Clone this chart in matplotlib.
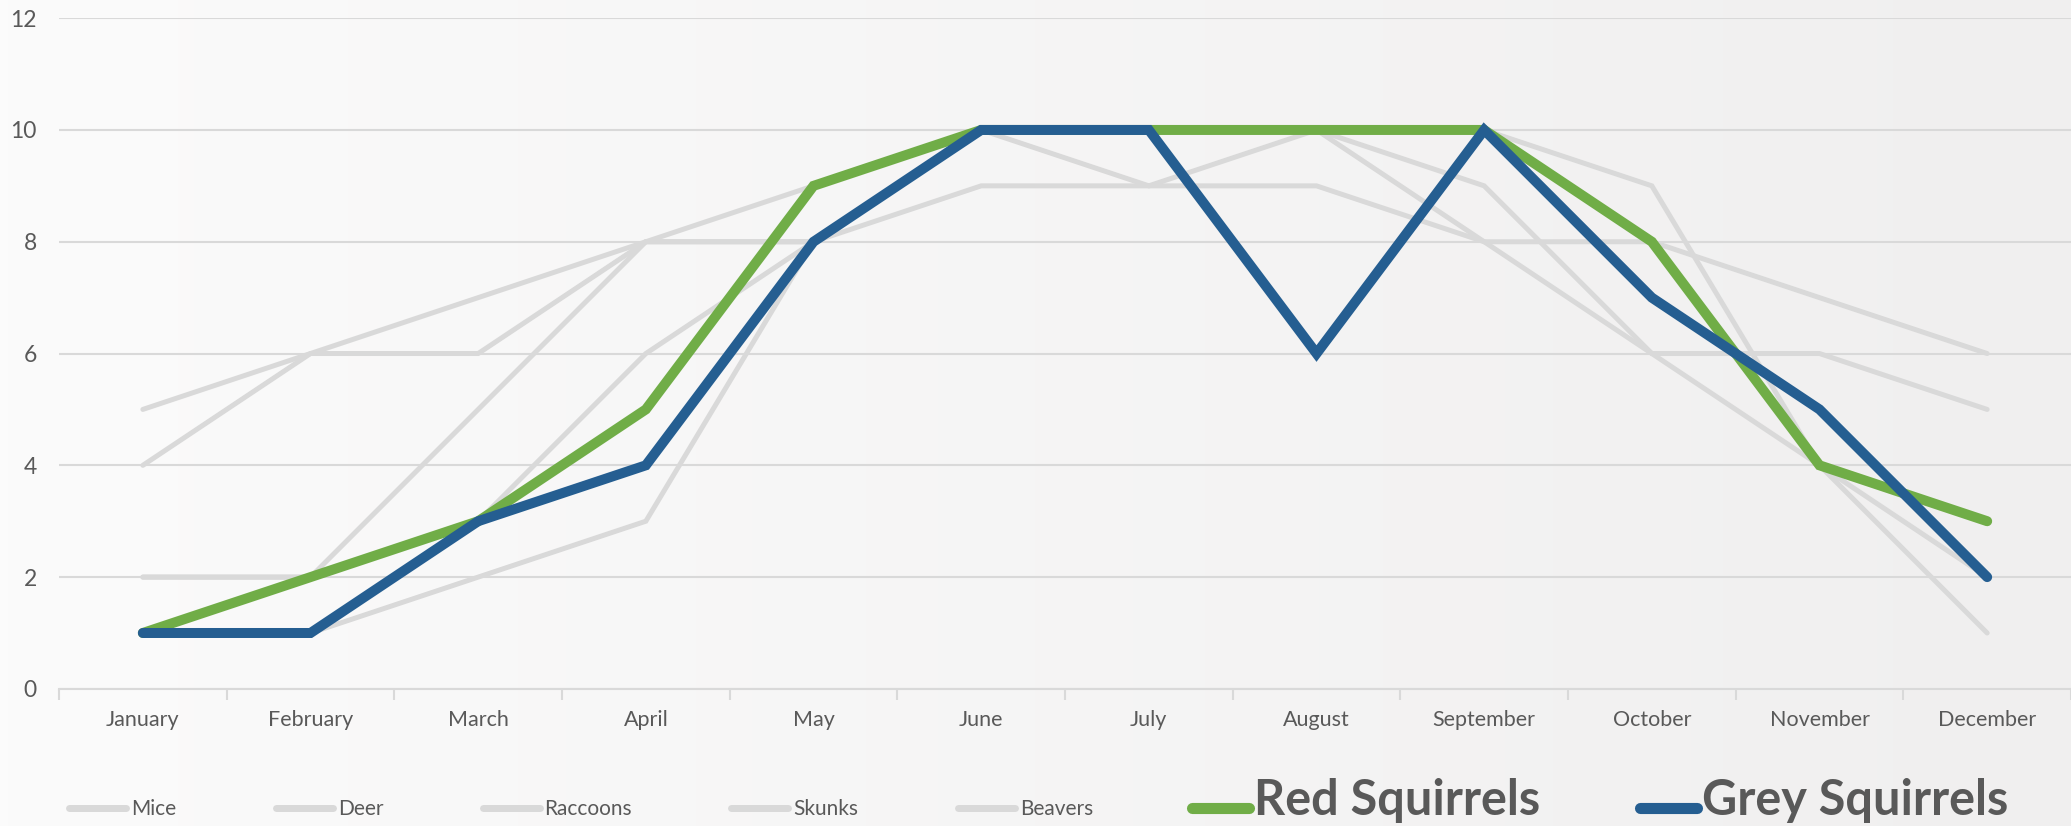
import numpy as np
import matplotlib
matplotlib.use("Agg")
import matplotlib.pyplot as plt
from matplotlib.ticker import FixedLocator

months = ["January", "February", "March", "April", "May", "June",
          "July", "August", "September", "October", "November", "December"]

mice     = [5, 6, 7, 8, 9, 10, 9, 10, 9, 6, 6, 5]
deer     = [4, 6, 6, 8, 8, 9, 9, 9, 8, 8, 7, 6]
raccoons = [2, 2, 5, 8, 8, 10, 10, 10, 10, 9, 4, 1]
skunks   = [2, 2, 3, 6, 8, 10, 10, 10, 8, 6, 4, 2]
beavers  = [1, 1, 2, 3, 8, 10, 10, 10, 10, 8, 4, 3]
red_squirrels  = [1, 2, 3, 5, 9, 10, 10, 10, 10, 8, 4, 3]
grey_squirrels = [1, 1, 3, 4, 8, 10, 10, 6, 10, 7, 5, 2]

others = [("Mice", mice), ("Deer", deer), ("Raccoons", raccoons),
          ("Skunks", skunks), ("Beavers", beavers)]

TXT = "#595959"
GRID = "#d9d9d9"
plt.rcParams["font.family"] = ["Lato", "DejaVu Sans"]

fig = plt.figure(figsize=(20.71, 8.26), dpi=100)

# soft left-to-right background gradient
bg = fig.add_axes([0, 0, 1, 1], zorder=-10)
grad = np.linspace(0, 1, 256)[None, :]
c0 = np.array([251, 251, 251]) / 255
c1 = np.array([240, 239, 239]) / 255
img = c0[None, None, :] * (1 - grad[..., None]) + c1[None, None, :] * grad[..., None]
bg.imshow(img, aspect="auto", extent=[0, 1, 0, 1])
bg.axis("off")

ax = fig.add_axes([0.0285, 0.166, 0.9715, 0.812])
ax.patch.set_alpha(0)
x = np.arange(len(months))

for name, vals in others:
    ax.plot(x, vals, color="#d9d9d9", lw=3.6, label=name,
            solid_capstyle="round", solid_joinstyle="miter", zorder=2)
ax.plot(x, red_squirrels, color="#70AD47", lw=7.2, label="Red Squirrels",
        solid_capstyle="round", solid_joinstyle="miter", zorder=3)
ax.plot(x, grey_squirrels, color="#255E91", lw=7.2, label="Grey Squirrels",
        solid_capstyle="round", solid_joinstyle="miter", zorder=4)

ax.set_xlim(-0.5, len(months) - 0.5)
ax.set_ylim(0, 12)
ax.set_yticks(range(0, 13, 2))
ax.yaxis.grid(True, color=GRID, lw=1.5)
ax.set_axisbelow(True)
for s in ["top", "right", "left"]:
    ax.spines[s].set_visible(False)
ax.spines["bottom"].set_color(GRID)
ax.spines["bottom"].set_linewidth(1.5)

ax.set_xticks(x)
ax.set_xticklabels(months)
ax.xaxis.set_minor_locator(FixedLocator(np.arange(-0.5, len(months), 1)))
ax.tick_params(axis="x", which="major", length=0, pad=15, labelsize=15.5, labelcolor=TXT)
ax.tick_params(axis="x", which="minor", length=8, width=1.5, color=GRID)
ax.tick_params(axis="y", length=0, pad=16, labelsize=16.5, labelcolor=TXT)

leg = fig.legend(loc="center left", bbox_to_anchor=(0.0335, 0.031), ncol=7,
                 frameon=False, fontsize=15, handlelength=2.74,
                 handletextpad=0.24, columnspacing=4.76, borderpad=0, borderaxespad=0)
for t in leg.get_texts():
    t.set_color(TXT)
for t in leg.get_texts()[5:]:
    t.set_fontsize(35)
    t.set_fontweight("bold")
for ln in leg.get_lines()[:5]:
    ln.set_linewidth(5)
for ln in leg.get_lines()[5:]:
    ln.set_linewidth(8)

fig.savefig("out.png", dpi=100)
